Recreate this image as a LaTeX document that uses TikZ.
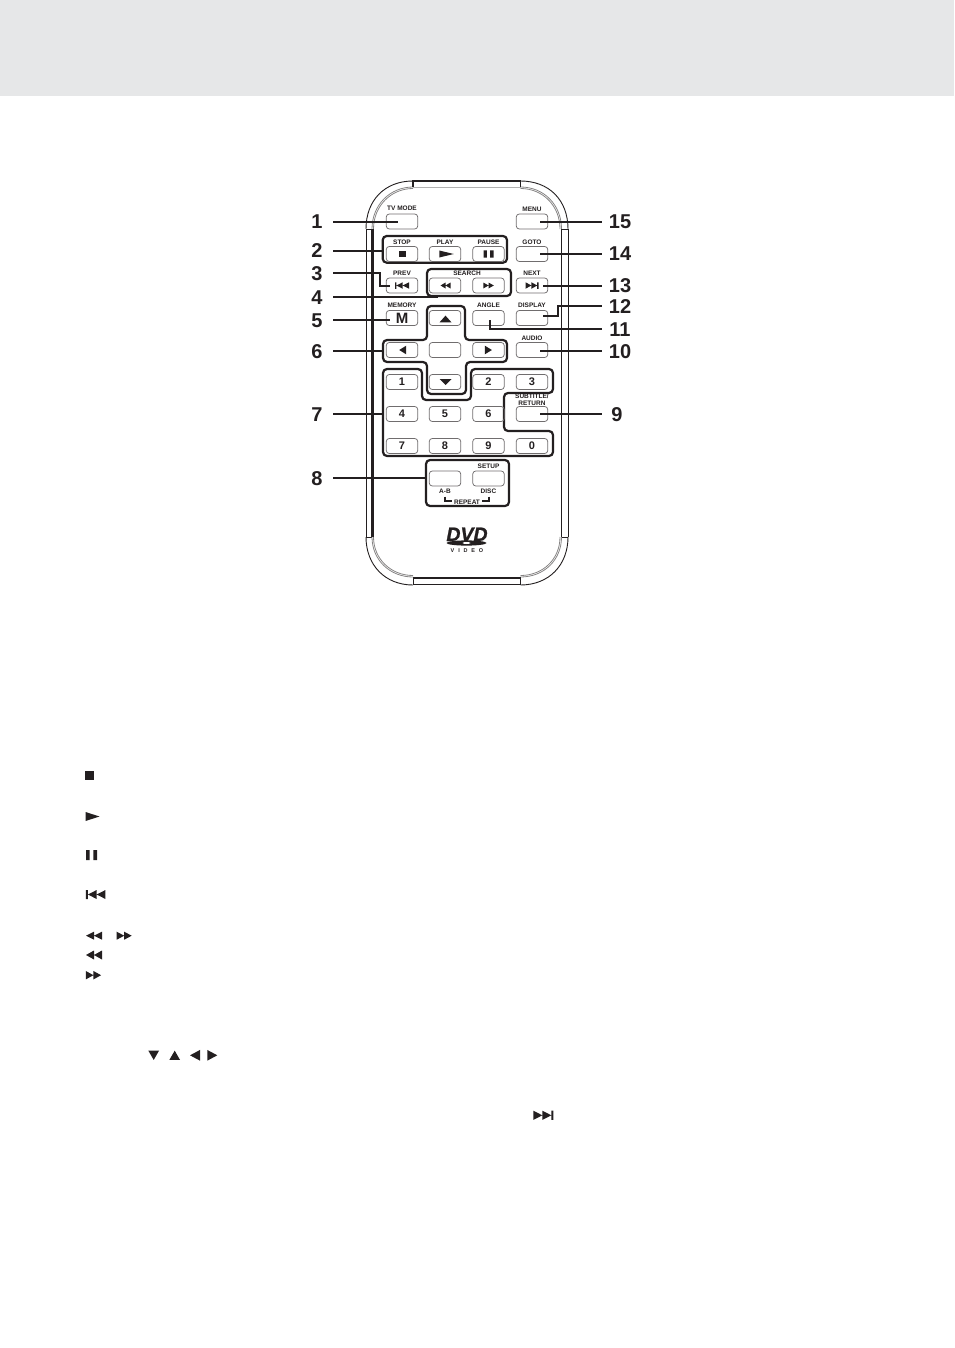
\documentclass[tikz,border=0pt]{standalone}
\usepackage{fontspec}
\setmainfont{Liberation Sans}
\newfontfamily\labfont{Liberation Sans Bold}
\newfontfamily\dvdfont[FakeBold=1.2]{Liberation Sans Bold Italic}
\newfontfamily\videofont[LetterSpace=70]{Liberation Sans Bold}
\definecolor{ink}{HTML}{231F20}
\definecolor{band}{HTML}{E6E7E8}
\tikzset{
  btn/.style={draw=ink!65,line width=0.75pt,rounded corners=3pt,minimum width=31.5pt,minimum height=15pt,inner sep=0pt},
  lab/.style={inner sep=0pt,text=ink,font=\labfont\fontsize{6.5}{7}\selectfont,text height=5pt,text depth=0pt},
  numl/.style={inner sep=0pt,text=ink,font=\bfseries\fontsize{20}{20}\selectfont,text height=14pt,text depth=0pt,minimum width=32pt},
  numr/.style={inner sep=0pt,text=ink,font=\bfseries\fontsize{20}{20}\selectfont,text height=14pt,text depth=0pt,minimum width=36pt},
  lead/.style={draw=ink,line width=2pt},
  grp/.style={draw=ink,line width=2.2pt,rounded corners=4pt},
  keyt/.style={font=\bfseries\fontsize{11}{12}\selectfont,text=ink},
  shell/.style={draw=ink,line width=0.9pt},
  shellin/.style={draw=ink!55,line width=0.8pt},
  stopic/.pic={\fill[ink] (-.5,-.5) rectangle (.5,.5);},
  pauseic/.pic={\fill[ink] (-.5,-.5) rectangle (-.17,.5) (.17,-.5) rectangle (.5,.5);},
  triup/.pic={\fill[ink] (0,-.5) -- (.5,.5) -- (-.5,.5) -- cycle;},
  trileft/.pic={\fill[ink] (-.5,0) -- (.5,-.5) -- (.5,.5) -- cycle;},
  rewic/.pic={\fill[ink] (-.5,0) -- (0,-.5) -- (0,.5) -- cycle (0,0) -- (.5,-.5) -- (.5,.5) -- cycle;},
  previc/.pic={\fill[ink] (-.5,-.5) rectangle (-.4,.5) (-.4,0) -- (.05,-.5) -- (.05,.5) -- cycle (.05,0) -- (.5,-.5) -- (.5,.5) -- cycle;},
}
\begin{document}
\begin{tikzpicture}[x=1pt,y=-1pt]
\useasboundingbox (0,0) rectangle (954,1348);
\fill[band] (0,0) rectangle (954,96);

% remote shell
\draw[shell] (366,229) .. controls (366,200) and (385,181) .. (413,181);
\draw[shell] (568,229) .. controls (568,200) and (549,181) .. (520.5,181);
\draw[shellin] (372,229) .. controls (372,205) and (390,187) .. (413,187);
\draw[shellin] (373.5,229) .. controls (373.5,206) and (391,188.5) .. (413,188.5);
\draw[shellin] (561.5,229) .. controls (561.5,205) and (544,187) .. (520.5,187);
\draw[shellin] (560,229) .. controls (560,206) and (543,188.5) .. (520.5,188.5);
\draw[ink!35,line width=0.5pt] (413,187) -- (520.5,187);
\draw[ink,line width=1.2pt] (413,187) -- (413,181) -- (520.5,181) -- (520.5,187);
\draw[shell] (366,229) -- (366,537) (568,229) -- (568,537);
\draw[ink,line width=3pt] (372,229) -- (372,537);
\draw[ink,line width=1.6pt] (561.5,229) -- (561.5,537);
\draw[shell] (366,229) -- (372,229) (366,537) -- (372,537) (561.5,229) -- (568,229) (561.5,537) -- (568,537);
\draw[shell] (366,537) .. controls (366,565) and (385,585) .. (413,585);
\draw[shell] (568,537) .. controls (568,565) and (549,585) .. (520.5,585);
\draw[shellin] (372,537) .. controls (372,560) and (390,577) .. (413,577);
\draw[shellin] (373.5,537) .. controls (373.5,559) and (391,575.5) .. (413,575.5);
\draw[shellin] (561.5,537) .. controls (561.5,560) and (544,577) .. (520.5,577);
\draw[shellin] (560,537) .. controls (560,559) and (543,575.5) .. (520.5,575.5);
\draw[ink,line width=1pt] (413,577) -- (413,585) (520.5,577) -- (520.5,585);
\draw[ink,line width=2.6pt] (413,578) -- (520.5,578);
\draw[ink,line width=1.6pt] (413,584.5) -- (520.5,584.5);

% button groups
\draw[grp] (382.7,236) rectangle (507,262.7);
\draw[grp] (427,269) rectangle (511,296);
\draw[grp] (383,340) -- (427,340) -- (427,306) -- (465,306) -- (465,340) -- (507,340) -- (507,362) -- (466,362) -- (466,394) -- (427,394) -- (427,362) -- (383,362) -- cycle;
\draw[grp] (383,369) -- (422,369) -- (422,400) -- (471,400) -- (471,369) -- (553,369) -- (553,393) -- (504,393) -- (504,431) -- (553,431) -- (553,456) -- (383,456) -- cycle;
\draw[grp] (426,460) rectangle (509,506);

% buttons
\node[btn] (btv) at (402,221.5) {};
\node[btn] (bmenu) at (532,221.5) {};
\node[btn] (bstop) at (402,254) {};
\node[btn] (bplay) at (445,254) {};
\node[btn] (bpause) at (488.5,254) {};
\node[btn] (bgoto) at (532,254) {};
\node[btn] (bprev) at (402,285.5) {};
\node[btn] (brew) at (445,285.5) {};
\node[btn] (bff) at (488.5,285.5) {};
\node[btn] (bnext) at (532,285.5) {};
\node[btn,font=\fontsize{15}{16}\selectfont\labfont,text=ink] (bmem) at (402,318) {M};
\node[btn] (bup) at (445,318) {};
\node[btn] (bangle) at (488.5,318) {};
\node[btn] (bdisp) at (532,318) {};
\node[btn] (bleft) at (402,350) {};
\node[btn] (bok) at (445,350) {};
\node[btn] (bright) at (488.5,350) {};
\node[btn] (baudio) at (532,350) {};
\node[btn,keyt] (k1) at (402,382) {1};
\node[btn] (bdown) at (445,382) {};
\node[btn,keyt] (k2) at (488.5,382) {2};
\node[btn,keyt] (k3) at (532,382) {3};
\node[btn,keyt] (k4) at (402,414) {4};
\node[btn,keyt] (k5) at (445,414) {5};
\node[btn,keyt] (k6) at (488.5,414) {6};
\node[btn] (bsub) at (532,414) {};
\node[btn,keyt] (k7) at (402,446) {7};
\node[btn,keyt] (k8) at (445,446) {8};
\node[btn,keyt] (k9) at (488.5,446) {9};
\node[btn,keyt] (k0) at (532,446) {0};
\node[btn] (bab) at (445,478.5) {};
\node[btn] (bsetup) at (488.5,478.5) {};

% button icons
\pic[xscale=7,yscale=6.5] at (402.8,254) {stopic};
\pic[xscale=-14.5,yscale=7] at (446.5,254) {trileft};
\pic[xscale=10,yscale=7] at (488.5,254) {pauseic};
\pic[xscale=14,yscale=6.5] at (402,285.5) {previc};
\pic[xscale=10,yscale=6] at (445.5,285.5) {rewic};
\pic[xscale=-10.5,yscale=6] at (488.5,285.5) {rewic};
\pic[xscale=-13,yscale=6.5] at (532,285.5) {previc};
\pic[xscale=12,yscale=6.7] at (445.5,319) {triup};
\pic[xscale=7,yscale=8.6] at (402.7,350) {trileft};
\pic[xscale=-7,yscale=8.6] at (488.4,350) {trileft};
\pic[xscale=12,yscale=-6] at (445.5,382) {triup};

% labels
\node[lab] (ltv) at (402,208.5) {TV MODE};
\node[lab] (lmenu) at (532,209) {MENU};
\node[lab] (lstop) at (402,241.5) {STOP};
\node[lab] (lplay) at (445,241.5) {PLAY};
\node[lab] (lpause) at (488.5,241.5) {PAUSE};
\node[lab] (lgoto) at (532,241.5) {GOTO};
\node[lab] (lprev) at (402,273.5) {PREV};
\node[lab] (lsearch) at (467,273.5) {SEARCH};
\node[lab] (lnext) at (532,273.5) {NEXT};
\node[lab] (lmem) at (402,305) {MEMORY};
\node[lab] (langle) at (488.5,305) {ANGLE};
\node[lab] (ldisp) at (532,305) {DISPLAY};
\node[lab] (laudio) at (532,337.5) {AUDIO};
\node[lab] (lsub) at (532,396) {SUBTITLE/};
\node[lab] (lret) at (532,402.5) {RETURN};
\node[lab] (lsetup) at (488.5,465.7) {SETUP};
\node[lab] (lab) at (445,491) {A-B};
\node[lab] (ldisc) at (488.5,491) {DISC};
\node[lab] (lrep) at (467,501.7) {REPEAT};
\draw[ink,line width=1.3pt] (445,496.5) -- (445,501) -- (452,501);
\draw[ink,line width=1.3pt] (489,496.5) -- (489,501) -- (482,501);

% DVD logo
\node[inner sep=0pt,text=ink,font=\dvdfont\fontsize{19.5}{20}\selectfont,text height=14pt,text depth=0pt] (dvd) at (467,534) {DVD};
\fill[ink] (466.5,543) ellipse [x radius=20,y radius=2.6];
\fill[white] (466.5,543) ellipse [x radius=4,y radius=1];
\node[inner sep=0pt,text=ink,font=\videofont\fontsize{5.5}{6}\selectfont] (video) at (467,550.5) {VIDEO};

% callout numbers
\node[numl] (n1) at (317,222) {1};
\node[numl] (n2) at (317,251) {2};
\node[numl] (n3) at (317,273) {3};
\node[numl] (n4) at (317,297) {4};
\node[numl] (n5) at (317,320) {5};
\node[numl] (n6) at (317,351) {6};
\node[numl] (n7) at (317,414) {7};
\node[numl] (n8) at (317,478) {8};
\node[numr] (n15) at (620,222) {15};
\node[numr] (n14) at (620,254) {14};
\node[numr] (n13) at (620,285.5) {13};
\node[numr] (n12) at (620,306) {12};
\node[numr] (n11) at (620,329) {11};
\node[numr] (n10) at (620,351) {10};
\node[numr] (n9) at (620,414) {\hspace*{-6pt}9};

% connector ends
\coordinate (e1) at (398,222);
\coordinate (e2) at (382,251);
\coordinate (e3) at (390,285.5);
\coordinate (e4) at (437,295);
\coordinate (e5) at (390,320);
\coordinate (e6) at (382,351);
\coordinate (e7) at (382,414);
\coordinate (e8) at (425,478);
\coordinate (e15) at (540,222);
\coordinate (e14) at (540,254);
\coordinate (e13) at (543,285.5);
\coordinate (e12) at (543,316);
\coordinate (e11) at (490,320);
\coordinate (e10) at (540,351);
\coordinate (e9) at (540,414);

\draw[lead] (n1.east) -- (e1);
\draw[lead] (n2.east) -- (e2);
\draw[lead] (n3.east) -- (380,273) -- (380,285.5) -- (e3);
\draw[lead] (n4.east) -- (437,297) -- (e4);
\draw[lead] (n5.east) -- (e5);
\draw[lead] (n6.east) -- (e6);
\draw[lead] (n7.east) -- (e7);
\draw[lead] (n8.east) -- (e8);
\draw[lead] (n15.west) -- (e15);
\draw[lead] (n14.west) -- (e14);
\draw[lead] (n13.west) -- (e13);
\draw[lead] (n12.west) -- (558,306) -- (558,316) -- (e12);
\draw[lead] (n11.west) -- (490,329) -- (e11);
\draw[lead] (n10.west) -- (e10);
\draw[lead] (n9.west) -- (e9);

% lower page icons
\pic[xscale=9,yscale=9] at (89.5,775.5) {stopic};
\pic[xscale=-14,yscale=9] at (92.5,816.5) {trileft};
\pic[xscale=11,yscale=10] at (91.5,855) {pauseic};
\pic[xscale=19.5,yscale=9] at (95.7,894.5) {previc};
\pic[xscale=16,yscale=8] at (94,935.7) {rewic};
\pic[xscale=-15,yscale=8] at (124.2,935.7) {rewic};
\pic[xscale=16,yscale=9] at (94,955) {rewic};
\pic[xscale=-15.3,yscale=8.5] at (93.4,975.2) {rewic};
\pic[xscale=10.7,yscale=-9.3] at (153.7,1055.3) {triup};
\pic[xscale=10.7,yscale=9.3] at (174.7,1055.3) {triup};
\pic[xscale=10,yscale=10.7] at (195,1055.3) {trileft};
\pic[xscale=-10,yscale=10.7] at (212.3,1055.3) {trileft};
\pic[xscale=-20,yscale=9.3] at (543.3,1115.3) {previc};
\end{tikzpicture}
\end{document}
